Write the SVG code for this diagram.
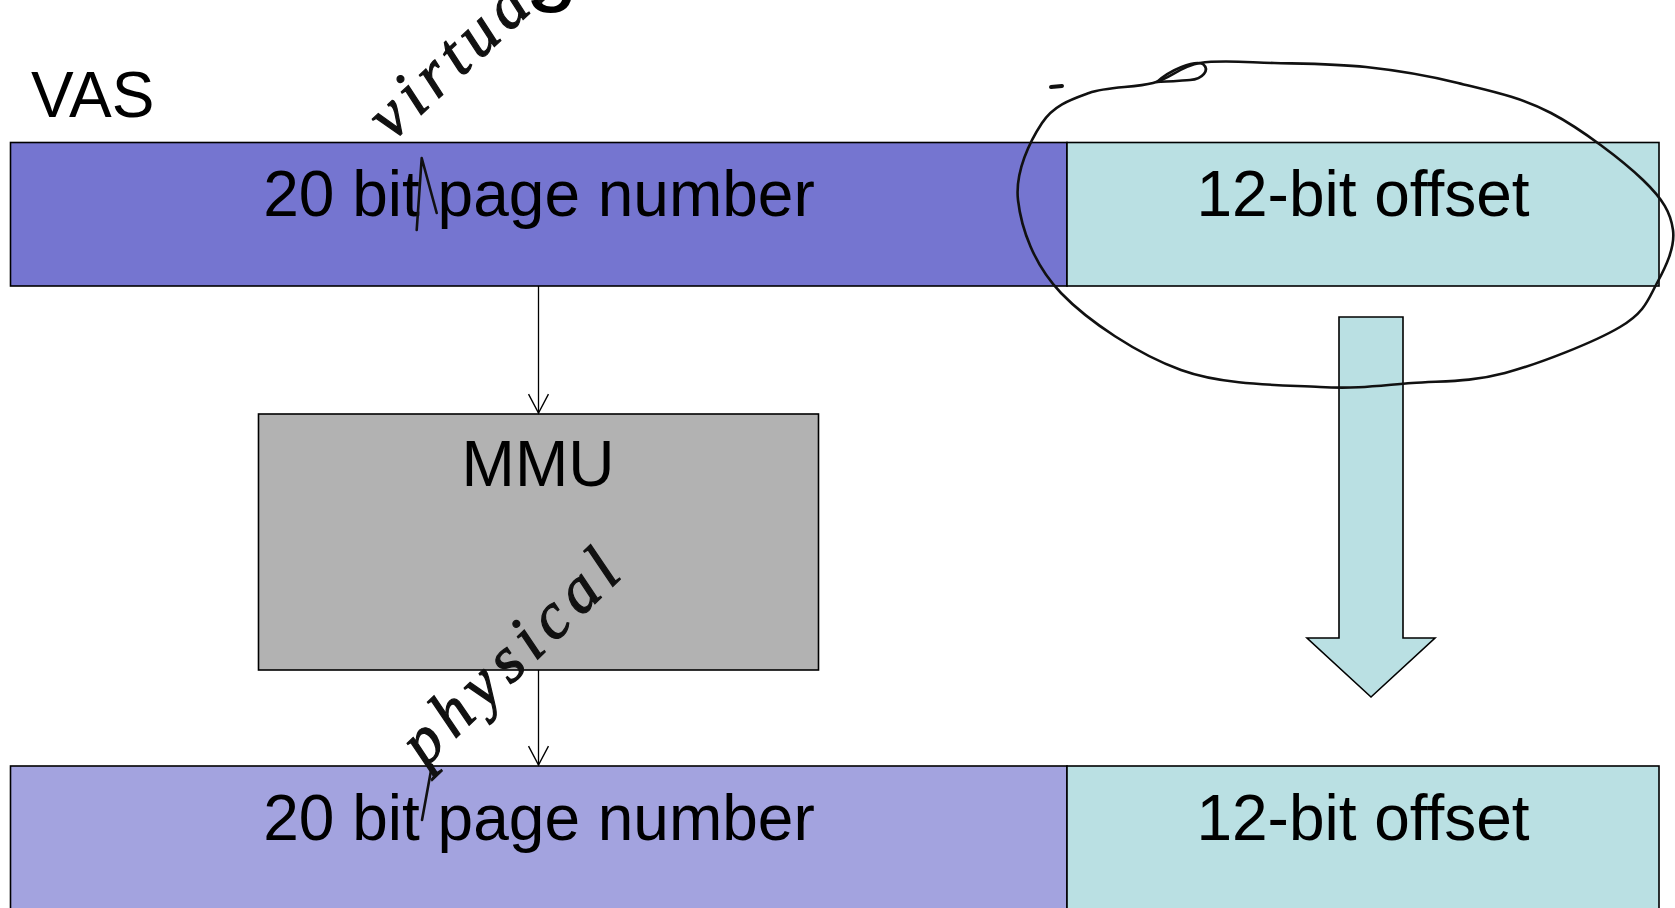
<svg xmlns="http://www.w3.org/2000/svg" width="1675" height="908" viewBox="0 0 1675 908">
  <defs>
    <style>
      .lbl { font-family: "Liberation Sans", Arial, sans-serif; font-size: 64px; fill: #000; }
      .mid { text-anchor: middle; }
      .box { stroke: #000; stroke-width: 1.6; }
      .conn { stroke: #000; stroke-width: 1.3; fill: none; }
      .ink { stroke: #111; stroke-width: 2.6; fill: none; stroke-linecap: round; stroke-linejoin: round; }
      .hand { font-family: "Liberation Serif", "DejaVu Serif", serif; font-style: italic; fill: #111; stroke: #111; stroke-width: 1.2; }
    </style>
    <!-- open V arrowhead, drawn pointing along +x -->
    <marker id="vhead" markerUnits="userSpaceOnUse" markerWidth="22" markerHeight="24" refX="19" refY="10" orient="auto" viewBox="0 0 21 20">
      <path d="M1,0.5 L19,10 L1,19.5" fill="none" stroke="#000" stroke-width="1.3"/>
    </marker>
  </defs>

  <rect width="1675" height="908" fill="#fff"/>

  <!-- title fragment at the top edge -->
  <text class="lbl" x="525" y="-7" style="font-size:96px">g</text>

  <text id="vas-label" class="lbl" x="31" y="117">VAS</text>

  <!-- virtual address -->
  <g id="vas-page">
    <rect class="box" x="10.5" y="142.5" width="1056.5" height="143.5" fill="#7575D0"/>
    <text class="lbl mid" x="539" y="216">20 bit page number</text>
  </g>
  <g id="vas-offset">
    <rect class="box" x="1067" y="142.5" width="592" height="143.5" fill="#BAE0E3"/>
    <text class="lbl mid" x="1363" y="216">12-bit offset</text>
  </g>

  <!-- translation unit -->
  <g id="mmu">
    <rect class="box" x="258.5" y="414" width="560" height="256" fill="#B2B2B2"/>
    <text class="lbl mid" x="538" y="486">MMU</text>
  </g>

  <!-- physical address -->
  <g id="pas-page">
    <rect class="box" x="10.5" y="766" width="1056.5" height="160" fill="#A3A3DF"/>
    <text class="lbl mid" x="539" y="840">20 bit page number</text>
  </g>
  <g id="pas-offset">
    <rect class="box" x="1067" y="766" width="592" height="160" fill="#BAE0E3"/>
    <text class="lbl mid" x="1363" y="840">12-bit offset</text>
  </g>

  <g id="connectors">
    <line class="conn" x1="538.5" y1="286" x2="538.5" y2="413" marker-end="url(#vhead)"/>
    <line class="conn" x1="538.5" y1="670" x2="538.5" y2="765" marker-end="url(#vhead)"/>
    <!-- offset passes straight through -->
    <polygon id="offset-arrow" points="1339,317 1403,317 1403,638 1435,638 1371,697 1307,638 1339,638" fill="#BAE0E3" stroke="#000" stroke-width="1.6"/>
  </g>

  <!-- pen annotations -->
  <g id="annotations">
    <text class="hand" transform="translate(392,142) rotate(-43)" style="font-size:66px;letter-spacing:7px">virtual</text>
    <path class="ink" d="M416.7,230 L421.7,158 L436.7,213"/>

    <text class="hand" transform="translate(425,768) rotate(-44)" style="font-size:66px;letter-spacing:8px">physical</text>
    <path class="ink" d="M432,765 L422,820"/>

    <path class="ink" d="M1089,93 C1107.5,86.3 1134.5,88 1153,83 C1171.5,78 1179.8,66.3 1200,63 C1220.2,59.7 1246.3,62.3 1274,63 C1301.7,63.7 1335.3,63.7 1366,67 C1396.7,70.3 1427.2,75.3 1458,83 C1488.8,90.7 1520.2,96.8 1551,113 C1581.8,129.2 1622.7,160.5 1643,180 C1663.3,199.5 1670.7,212.8 1673,230 C1675.3,247.2 1665.8,266.8 1657,283 C1648.2,299.2 1645.3,312 1620,327 C1594.7,342 1539.7,363.7 1505,373 C1470.3,382.3 1442.8,380.7 1412,383 C1381.2,385.3 1358.5,389.2 1320,387 C1281.5,384.8 1224.2,385.7 1181,370 C1137.8,354.3 1088.2,321.3 1061,293 C1033.8,264.7 1021.2,228.3 1018,200 C1014.8,171.7 1030.2,140.8 1042,123 C1053.8,105.2 1070.5,99.7 1089,93 Z"/>
    <path class="ink" d="M1157,82 C1170,70 1194,60 1203,64 C1210,70 1203,79 1190,80 C1176,81 1164,82 1157,82"/>
    <path class="ink" d="M1051,87 L1062,86" style="stroke-width:4"/>
  </g>
</svg>
